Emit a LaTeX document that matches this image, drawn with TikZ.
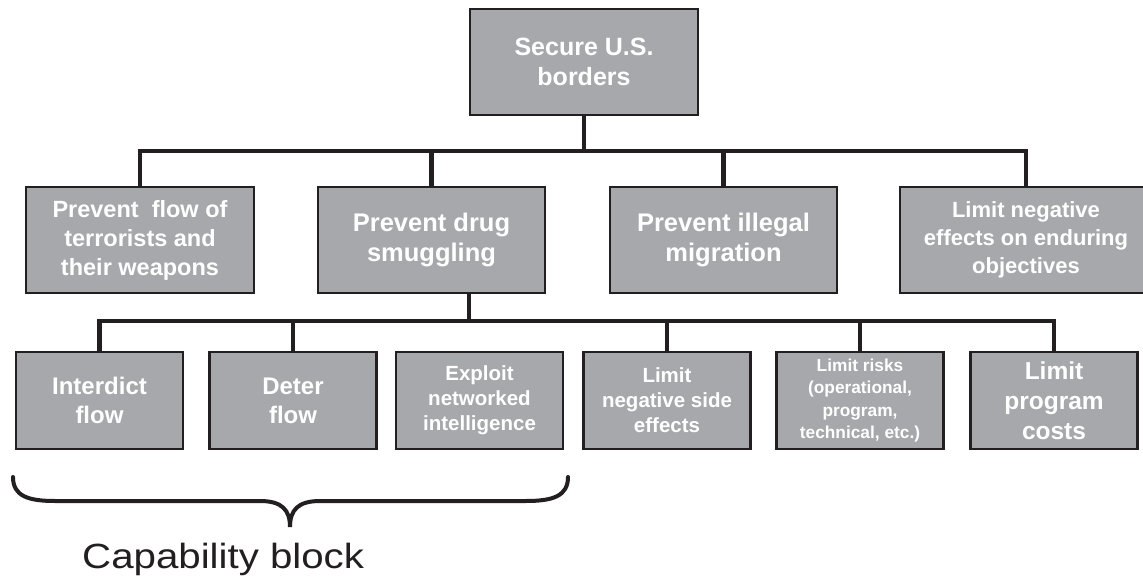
\documentclass[tikz,border=0pt]{standalone}
\usepackage{fontspec}
\setmainfont{Liberation Sans}
\newfontfamily\capfont[FakeStretch=1.15]{Liberation Sans}
\definecolor{boxgray}{HTML}{A7A8AB}
\definecolor{ink}{HTML}{231F20}
\tikzset{
  gbox/.style={draw=ink, fill=boxgray, line width=2.6pt, text=white,
    font=\bfseries, align=center, inner sep=0pt, minimum height=106pt},
  sbox/.style={gbox, minimum width=167pt, minimum height=97pt},
  conn/.style={draw=ink, line width=4.6pt},
  fs/.style 2 args={font=\bfseries\fontsize{#1}{#2}\selectfont}
}
\begin{document}
\begin{tikzpicture}[x=1pt,y=-1pt]
\clip (0,0) rectangle (1143,583);
\fill[white] (0,0) rectangle (1143,583);
% level 0
\node[gbox, minimum width=228pt, fs={25}{30}] (top) at (584,62) {Secure U.S.\\borders};
% level 1
\node[gbox, minimum width=228pt, fs={23.5}{29}] (b1) at (140,240) {Prevent\ \ flow of\\terrorists and\\their weapons};
\node[gbox, minimum width=227pt, fs={25.5}{30}] (b2) at (431.5,240) {Prevent drug\\smuggling};
\node[gbox, minimum width=227pt, fs={25.5}{30}] (b3) at (723.5,240) {Prevent illegal\\migration};
\node[gbox, minimum width=252pt, fs={22}{28}] (b4) at (1026,240) {Limit negative\\effects on enduring\\objectives};
% level 2
\node[sbox, fs={24}{29}] (c1) at (99.5,400.5) {Interdict\\flow};
\node[sbox, fs={24}{29}] (c2) at (293,400.5) {Deter\\flow};
\node[sbox, fs={20.5}{25}] (c3) at (479.5,400.5) {Exploit\\networked\\intelligence};
\node[sbox, fs={20.5}{25}] (c4) at (667,400.5) {Limit\\negative side\\effects};
\node[sbox, fs={17.3}{22.5}] (c5) at (860,400.5) {Limit risks\\(operational,\\program,\\technical, etc.)};
\node[sbox, fs={24.5}{30}] (c6) at (1054,400.5) {Limit\\program\\costs};
% junctions
\coordinate (j1) at (584,151);
\coordinate (j2) at (469,321);
% connectors level 0-1
\draw[conn] (top.south) -- (top.south |- j1);
\draw[conn] (b1.north) -- (b1.north |- j1) -- (b4.north |- j1) -- (b4.north);
\draw[conn] (b2.north) -- (b2.north |- j1);
\draw[conn] (b3.north) -- (b3.north |- j1);
% connectors level 1-2
\draw[conn] (b2.south -| j2) -- (j2);
\draw[conn] (c1.north) -- (c1.north |- j2) -- (c6.north |- j2) -- (c6.north);
\draw[conn] (c2.north) -- (c2.north |- j2);
\draw[conn] (c4.north) -- (c4.north |- j2);
\draw[conn] (c5.north) -- (c5.north |- j2);
% brace
\draw[draw=ink, line width=4pt, line cap=round]
  (13,477) .. controls (13,496) and (28,501) .. (55,501)
  -- (260,501) .. controls (282,501) and (290,510) .. (290,527)
  .. controls (290,510) and (298,501) .. (320,501)
  -- (526,501) .. controls (553,501) and (568,496) .. (568,477);
\node[anchor=base west, inner sep=0pt, text=ink, font=\capfont\fontsize{35}{40}\selectfont] (cap) at (82,568) {Capability block};
\end{tikzpicture}
\end{document}
